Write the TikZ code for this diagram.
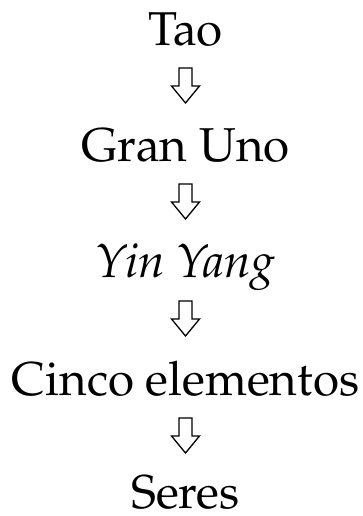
\documentclass[tikz,border=0pt]{standalone}
\usepackage[T1]{fontenc}
\usepackage{mathpazo}
\usetikzlibrary{calc}
\tikzset{
  lbl/.style={anchor=base, inner sep=0pt, font=\fontsize{47.5}{56}\selectfont},
  hollowarrow/.style={draw=black, fill=white, line width=1.3pt, line join=miter}
}
% #1 = coordinate of the arrow tip
\newcommand{\hollowdown}[1]{%
  \draw[hollowarrow] ($(#1)+(-6.5pt,35pt)$) -- ($(#1)+(6.5pt,35pt)$) -- ($(#1)+(6.5pt,17pt)$)
    -- ($(#1)+(14pt,17pt)$) -- (#1) -- ($(#1)+(-14pt,17pt)$)
    -- ($(#1)+(-6.5pt,17pt)$) -- cycle;}
\begin{document}
\begin{tikzpicture}[x=1pt,y=1pt]
\useasboundingbox (0,0) rectangle (363,516);
\node[lbl] (tao)   at (185.5,516-46)  {Tao};
\node[lbl] (gran)  at (185.5,516-162) {Gran Uno};
\node[lbl] (yin)   at (185.5,516-278) {\itshape Yin Yang};
\node[lbl] (cinco) at (185.5,516-396) {Cinco elementos};
\node[lbl] (seres) at (185.5,516-508) {Seres};
\coordinate (t1) at (185.5,516-103);
\coordinate (t2) at (185.5,516-219);
\coordinate (t3) at (185.5,516-336);
\coordinate (t4) at (185.5,516-453);
\hollowdown{t1}
\hollowdown{t2}
\hollowdown{t3}
\hollowdown{t4}
\end{tikzpicture}
\end{document}
